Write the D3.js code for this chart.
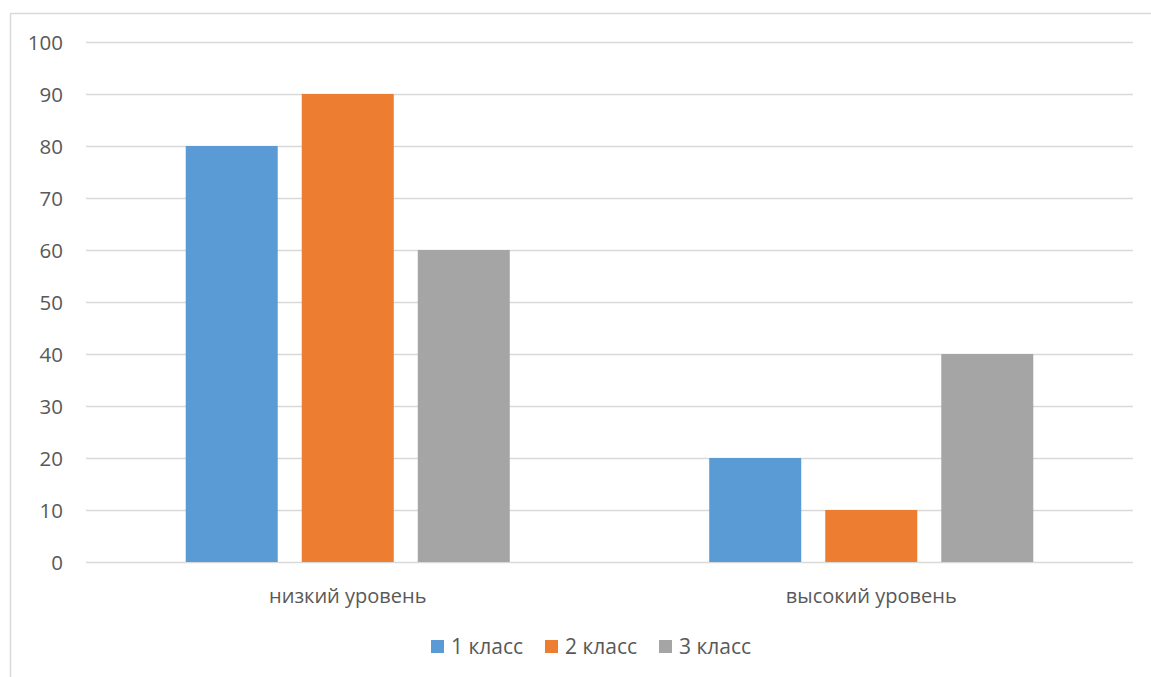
<!DOCTYPE html>
<html>
<head>
<meta charset="utf-8">
<script src="https://cdn.jsdelivr.net/npm/d3@7"></script>
<style>
  body { margin: 0; background: #fff; }
  text { font-family: "Open Sans", "Noto Sans", sans-serif; fill: #595959; }
</style>
</head>
<body>
<div id="chart"></div>
<script>
// chart data
const categories = ["низкий уровень", "высокий уровень"];
const seriesNames = ["1 класс", "2 класс", "3 класс"];
const seriesValues = [
  [80, 20],
  [90, 10],
  [60, 40],
];
const yTicks = [0, 10, 20, 30, 40, 50, 60, 70, 80, 90, 100];
const colors = ["#5b9bd5", "#ed7d31", "#a5a5a5"];

const width = 1151;
const height = 677;
const plot = { left: 86, right: 1133, top: 42, bottom: 562 };
const fontFamily = '"Open Sans", "Noto Sans", sans-serif';

const svg = d3
  .select("#chart")
  .append("svg")
  .attr("width", width)
  .attr("height", height);

// chart area border (runs off the right and bottom edges)
svg
  .append("rect")
  .attr("x", 10.5)
  .attr("y", 13.5)
  .attr("width", 1200)
  .attr("height", 700)
  .attr("fill", "none")
  .attr("stroke", "#d9d9d9")
  .attr("stroke-width", 1.5);

// scales
const y = d3.scaleLinear().domain([0, 100]).range([plot.bottom, plot.top]);
const x0 = d3
  .scaleBand()
  .domain(categories)
  .range([plot.left, plot.right])
  .paddingInner(0.381)
  .paddingOuter(0.1905);
const x1 = d3
  .scaleBand()
  .domain(seriesNames)
  .range([0, x0.bandwidth()])
  .paddingInner(0.207);

// gridlines
svg
  .append("g")
  .selectAll("line")
  .data(yTicks)
  .join("line")
  .attr("x1", plot.left)
  .attr("x2", plot.right)
  .attr("y1", (d) => Math.round(y(d)) + 0.5)
  .attr("y2", (d) => Math.round(y(d)) + 0.5)
  .attr("stroke", "#d9d9d9")
  .attr("stroke-width", 1.5);

// y axis labels
const yAxis = svg
  .append("g")
  .attr("transform", `translate(${plot.left - 23},0)`)
  .call(d3.axisLeft(y).tickValues(yTicks).tickSize(0).tickPadding(0));
yAxis.select(".domain").remove();
yAxis
  .selectAll("text")
  .attr("dy", "0.36em")
  .style("font-family", fontFamily)
  .style("font-size", "20.5px")
  .style("fill", "#595959");

// bars
const groups = svg
  .append("g")
  .selectAll("g")
  .data(categories)
  .join("g")
  .attr("transform", (d) => `translate(${x0(d)},0)`);

groups
  .selectAll("rect")
  .data((d, i) => seriesNames.map((s, j) => ({ s, j, v: seriesValues[j][i] })))
  .join("rect")
  .attr("x", (d) => x1(d.s))
  .attr("width", x1.bandwidth())
  .attr("y", (d) => y(d.v))
  .attr("height", (d) => y(0) - y(d.v))
  .attr("fill", (d) => colors[d.j]);

// category labels
const xAxis = svg
  .append("g")
  .attr("transform", `translate(0,603)`)
  .call(d3.axisBottom(x0).tickSize(0).tickPadding(0));
xAxis.select(".domain").remove();
xAxis
  .selectAll("text")
  .attr("y", 0)
  .attr("dy", 0)
  .style("font-family", fontFamily)
  .style("font-size", "20px")
  .style("fill", "#595959");

// legend
const legendX = [431, 545, 659];
const legend = svg
  .append("g")
  .selectAll("g")
  .data(seriesNames)
  .join("g")
  .attr("transform", (d, i) => `translate(${legendX[i]},640)`);

legend
  .append("rect")
  .attr("width", 13)
  .attr("height", 13)
  .attr("fill", (d, i) => colors[i]);

legend
  .append("text")
  .attr("x", 20)
  .attr("y", 14)
  .style("font-size", "21px")
  .text((d) => d);
</script>
</body>
</html>
